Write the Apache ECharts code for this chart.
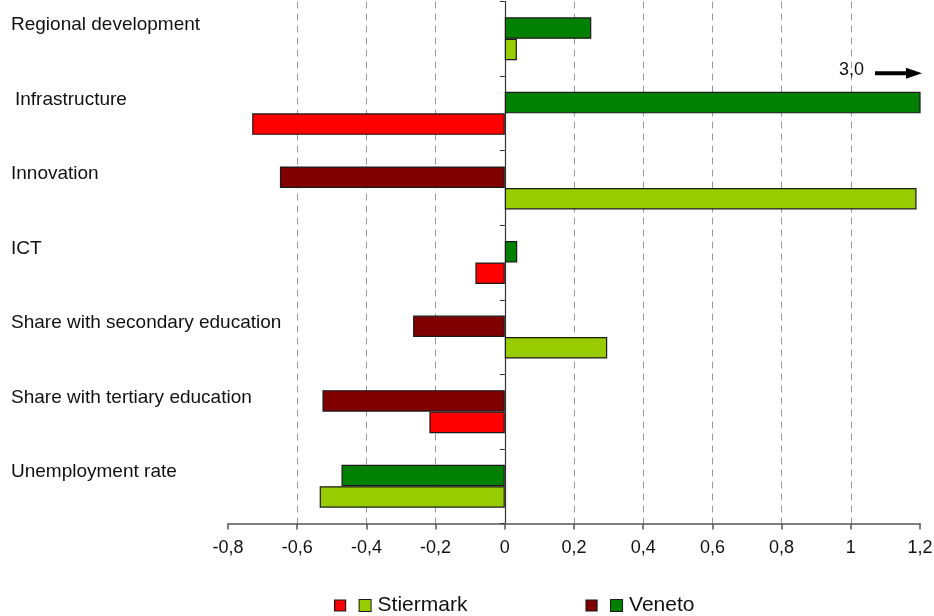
<!DOCTYPE html>
<html><head><meta charset="utf-8">
<script src="https://cdn.jsdelivr.net/npm/echarts@6/dist/echarts.min.js"></script>
<style>html,body{margin:0;padding:0;background:#fff}#c{width:934px;height:616px}</style>
</head><body><div id="c"></div>
<script>
const categories = ['Regional development', 'Infrastructure', 'Innovation', 'ICT',
  'Share with secondary education', 'Share with tertiary education', 'Unemployment rate'];
// +1: a higher value is favourable, -1: a lower value is favourable
const polarity = [1, 1, 1, 1, 1, 1, -1];
const stiermark = [0.035, -0.73, 1.19, -0.085, 0.296, -0.218, -0.535];
const veneto = [0.25, 3.0, -0.65, 0.036, -0.265, -0.527, -0.472];
const axisMin = -0.8, axisMax = 1.2, axisStep = 0.2;
const offScaleNote = '3,0';

const colors = {
  stiermarkPos: '#99cc00', stiermarkNeg: '#ff0000',
  venetoPos: '#008000', venetoNeg: '#800000'
};
const FONT = 'Liberation Sans, Arial, sans-serif';
const chart = echarts.init(document.getElementById('c'), null, {renderer: 'canvas'});
const fmt = v => String(+v.toFixed(1)).replace('.', ',');
const barBorder = {borderColor: '#1a1a1a', borderWidth: 1.2};
const favourable = p => p.value * polarity[p.dataIndex] >= 0;

const option = {
  animation: false,
  backgroundColor: '#fff',
  grid: {left: 228, right: 14, top: 1.5, bottom: 92.5, containLabel: false, outerBoundsMode: 'none'},
  xAxis: {
    type: 'value', min: axisMin, max: axisMax, interval: axisStep,
    axisLine: {show: true, onZero: false, lineStyle: {color: '#555', width: 1.5}},
    axisTick: {show: true, length: 6, lineStyle: {color: '#555', width: 1.5}},
    axisLabel: {formatter: fmt, fontFamily: FONT, fontSize: 18, color: '#111', margin: 16},
    splitLine: {show: true, showMinLine: false, showMaxLine: false,
      lineStyle: {color: '#999', type: [7, 5], width: 1}}
  },
  yAxis: [
    {
      type: 'category', data: categories, inverse: true,
      axisLine: {show: false, onZero: false}, axisTick: {show: false},
      splitLine: {show: false},
      axisLabel: {
        align: 'left', margin: 217, fontFamily: FONT, fontSize: 19, color: '#111',
        verticalAlign: 'middle', padding: [0, 0, 28, 0],
        formatter: v => v === 'Infrastructure' ? '{i|' + v + '}' : v,
        rich: {i: {padding: [0, 0, 0, 4], fontFamily: FONT, fontSize: 19, color: '#111'}}
      }
    },
    {
      type: 'category', data: categories, inverse: true, position: 'left',
      axisLine: {show: true, onZero: true, lineStyle: {color: '#333', width: 1.2}},
      axisTick: {show: true, length: 5, lineStyle: {color: '#333'}},
      axisLabel: {show: false}, splitLine: {show: false}
    }
  ],
  legend: {
    left: 329, top: 590, itemWidth: 11, itemHeight: 11, itemGap: 118, icon: 'rect',
    data: [
      {name: 'Stiermark', itemStyle: Object.assign({color: colors.stiermarkNeg}, barBorder)},
      {name: 'Veneto', itemStyle: Object.assign({color: colors.venetoNeg}, barBorder)}
    ],
    formatter: name => '{s| }{' + (name === 'Stiermark' ? 'bs' : 'bv') + '| }{s2| }{t|' + name + '}',
    textStyle: {
      fontFamily: FONT, fontSize: 21, color: '#111',
      rich: {
        s: {width: 9, height: 11},
        s2: {width: 7, height: 11},
        bs: {width: 11, height: 11, backgroundColor: colors.stiermarkPos, borderColor: '#1a1a1a', borderWidth: 1, verticalAlign: 'middle'},
        bv: {width: 11, height: 11, backgroundColor: colors.venetoPos, borderColor: '#1a1a1a', borderWidth: 1, verticalAlign: 'middle'},
        t: {fontFamily: FONT, fontSize: 21, color: '#111', verticalAlign: 'middle'}
      }
    }
  },
  series: [
    {
      name: 'Veneto', type: 'bar', data: veneto, yAxisIndex: 0, barWidth: 21.5, barGap: '0%', clip: true,
      itemStyle: Object.assign({color: p => favourable(p) ? colors.venetoPos : colors.venetoNeg}, barBorder)
    },
    {
      name: 'Stiermark', type: 'bar', data: stiermark, yAxisIndex: 0, barWidth: 21.5, barGap: '0%', clip: true,
      itemStyle: Object.assign({color: p => favourable(p) ? colors.stiermarkPos : colors.stiermarkNeg}, barBorder)
    }
  ]
};
chart.setOption(option);

// annotation for the off-scale Veneto Infrastructure value
const idx = veneto.findIndex(v => v > axisMax);
if (idx >= 0) {
  const p = chart.convertToPixel({xAxisIndex: 0, yAxisIndex: 0}, [axisMax, categories[idx]]);
  const y = p[1] - 40;
  const xEnd = p[0] + 2;
  chart.setOption({
    graphic: [
      {type: 'text', x: xEnd - 58, y: y - 3, style: {text: offScaleNote, fontFamily: FONT, fontSize: 18, fill: '#111', align: 'right', verticalAlign: 'middle'}},
      {type: 'line', shape: {x1: xEnd - 47, y1: y, x2: xEnd - 14, y2: y}, style: {stroke: '#000', lineWidth: 4}},
      {type: 'polygon', shape: {points: [[xEnd - 16, y - 5.5], [xEnd, y], [xEnd - 16, y + 5.5]]}, style: {fill: '#000'}}
    ]
  });
}
</script>
</body></html>
